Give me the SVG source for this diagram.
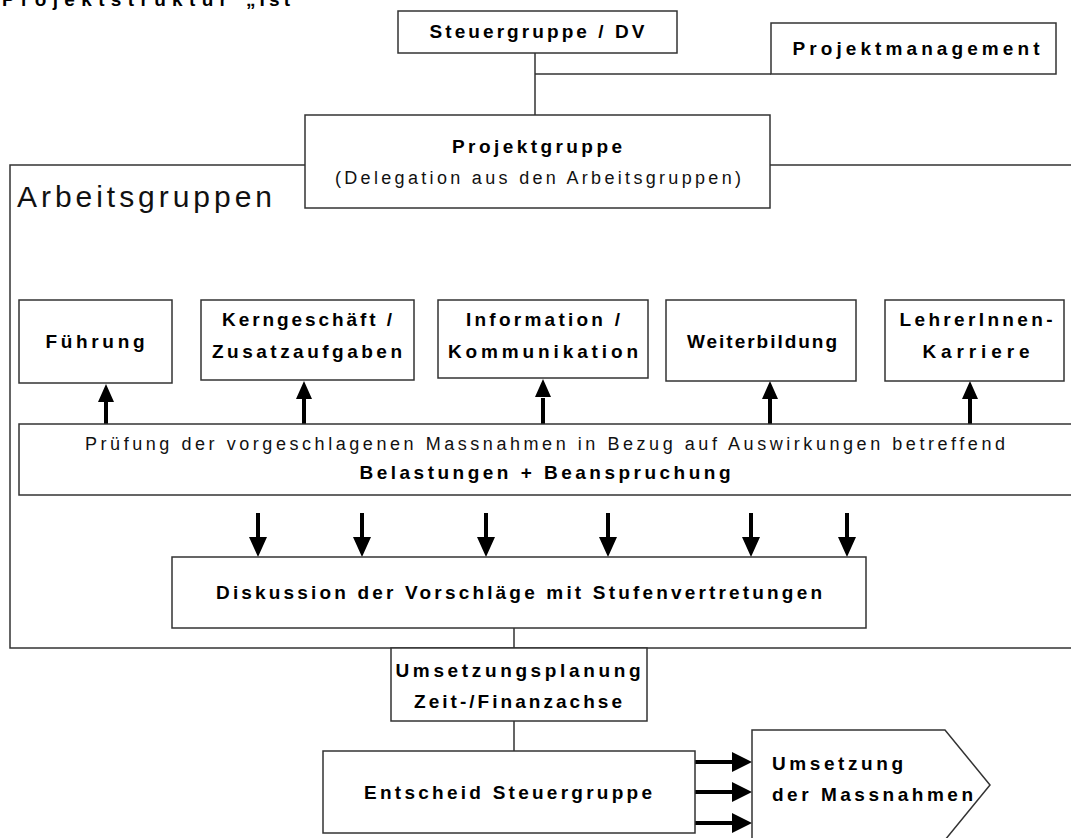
<svg xmlns="http://www.w3.org/2000/svg" width="1071" height="838" viewBox="0 0 1071 838">
<defs>
<style>
.box{fill:#fff;stroke:#333;stroke-width:1.5}
.ln{fill:none;stroke:#333;stroke-width:1.5}
.b{font-family:"Liberation Sans",Arial,sans-serif;font-weight:bold;font-size:19px;fill:#000}
.r{font-family:"Liberation Sans",Arial,sans-serif;font-size:18px;fill:#111}
.shaft{stroke:#000;stroke-width:4;fill:none}
.head{fill:#000}
</style>
</defs>
<rect width="1071" height="838" fill="#fff"/>
<text class="b" x="2" y="6" textLength="225" lengthAdjust="spacing">Projektstruktur</text>
<text class="b" x="246" y="6" textLength="44" lengthAdjust="spacing">„Ist</text>

<g id="arbeitsgruppen">
<rect class="box" x="10" y="165" width="1075" height="483"/>
<text class="r" x="17" y="207" style="font-size:30px" textLength="255" lengthAdjust="spacing">Arbeitsgruppen</text>
</g>

<g id="connectors">
<path class="ln" d="M535,53 V115 M535,74 H771 M514,628 V648 M514,721 V751"/>
<g id="up-arrows">
<path class="shaft" d="M106,424 V398 M304,424 V398 M543,424 V398 M770,424 V398 M970,424 V398"/>
<path class="head" d="M98,402 L106,384 L114,402 Z M296,399 L304,381 L312,399 Z M535,397 L543,379 L551,397 Z M762,399 L770,381 L778,399 Z M962,399 L970,381 L978,399 Z"/>
</g>
<g id="down-arrows">
<path class="shaft" d="M258,513 V542 M362,513 V542 M486,513 V542 M608,513 V542 M751,513 V542 M847,513 V542"/>
<path class="head" d="M249,537 L258,557 L267,537 Z M353,537 L362,557 L371,537 Z M477,537 L486,557 L495,537 Z M599,537 L608,557 L617,537 Z M742,537 L751,557 L760,537 Z M838,537 L847,557 L856,537 Z"/>
</g>
<g id="right-arrows">
<path class="shaft" d="M695,762 H736 M695,792 H736 M695,823 H736"/>
<path class="head" d="M732,752 L752,762 L732,772 Z M732,782 L752,792 L732,802 Z M732,813 L752,823 L732,833 Z"/>
</g>
</g>

<g id="steuergruppe">
<rect class="box" x="398" y="11" width="279" height="42"/>
<text class="b" x="537" y="38" text-anchor="middle" textLength="215" lengthAdjust="spacing">Steuergruppe / DV</text>
</g>
<g id="projektmanagement">
<rect class="box" x="771" y="23" width="285" height="51"/>
<text class="b" x="916" y="55" text-anchor="middle" textLength="247" lengthAdjust="spacing">Projektmanagement</text>
</g>
<g id="projektgruppe">
<rect class="box" x="305" y="115" width="465" height="93"/>
<text class="b" x="537" y="153" text-anchor="middle" textLength="170" lengthAdjust="spacing">Projektgruppe</text>
<text class="r" x="538" y="184" text-anchor="middle" textLength="406" lengthAdjust="spacing">(Delegation aus den Arbeitsgruppen)</text>
</g>

<g id="fuehrung">
<rect class="box" x="19" y="300" width="153" height="83"/>
<text class="b" x="95" y="348" text-anchor="middle" textLength="99" lengthAdjust="spacing">Führung</text>
</g>
<g id="kerngeschaeft">
<rect class="box" x="201" y="300" width="213" height="80"/>
<text class="b" x="307" y="326" text-anchor="middle" textLength="170" lengthAdjust="spacing">Kerngeschäft /</text>
<text class="b" x="307" y="358" text-anchor="middle" textLength="190" lengthAdjust="spacing">Zusatzaufgaben</text>
</g>
<g id="information">
<rect class="box" x="438" y="300" width="210" height="78"/>
<text class="b" x="543" y="326" text-anchor="middle" textLength="154" lengthAdjust="spacing">Information /</text>
<text class="b" x="543" y="358" text-anchor="middle" textLength="190" lengthAdjust="spacing">Kommunikation</text>
</g>
<g id="weiterbildung">
<rect class="box" x="666" y="300" width="190" height="81"/>
<text class="b" x="762" y="348" text-anchor="middle" textLength="150" lengthAdjust="spacing">Weiterbildung</text>
</g>
<g id="lehrerinnen">
<rect class="box" x="885" y="300" width="179" height="81"/>
<text class="b" x="976" y="326" text-anchor="middle" textLength="153" lengthAdjust="spacing">LehrerInnen-</text>
<text class="b" x="976" y="358" text-anchor="middle" textLength="107" lengthAdjust="spacing">Karriere</text>
</g>

<g id="pruefung">
<rect class="box" x="19" y="424" width="1066" height="71"/>
<text class="r" x="545" y="450" text-anchor="middle" textLength="920" lengthAdjust="spacing">Prüfung der vorgeschlagenen Massnahmen in Bezug auf Auswirkungen betreffend</text>
<text class="b" x="545" y="479" text-anchor="middle" textLength="371" lengthAdjust="spacing">Belastungen + Beanspruchung</text>
</g>

<g id="diskussion">
<rect class="box" x="172" y="557" width="694" height="71"/>
<text class="b" x="519" y="599" text-anchor="middle" textLength="606" lengthAdjust="spacing">Diskussion der Vorschläge mit Stufenvertretungen</text>
</g>

<g id="umsetzungsplanung">
<rect class="box" x="391" y="648" width="256" height="73"/>
<text class="b" x="518" y="677" text-anchor="middle" textLength="245" lengthAdjust="spacing">Umsetzungsplanung</text>
<text class="b" x="518" y="708" text-anchor="middle" textLength="208" lengthAdjust="spacing">Zeit-/Finanzachse</text>
</g>

<g id="entscheid">
<rect class="box" x="323" y="751" width="372" height="82"/>
<text class="b" x="508" y="799" text-anchor="middle" textLength="288" lengthAdjust="spacing">Entscheid Steuergruppe</text>
</g>

<g id="umsetzung">
<polygon class="box" points="752,730 945,730 990,785 945,840 752,840"/>
<text class="b" x="772" y="770" textLength="131" lengthAdjust="spacing">Umsetzung</text>
<text class="b" x="772" y="801" textLength="201" lengthAdjust="spacing">der Massnahmen</text>
</g>
</svg>
